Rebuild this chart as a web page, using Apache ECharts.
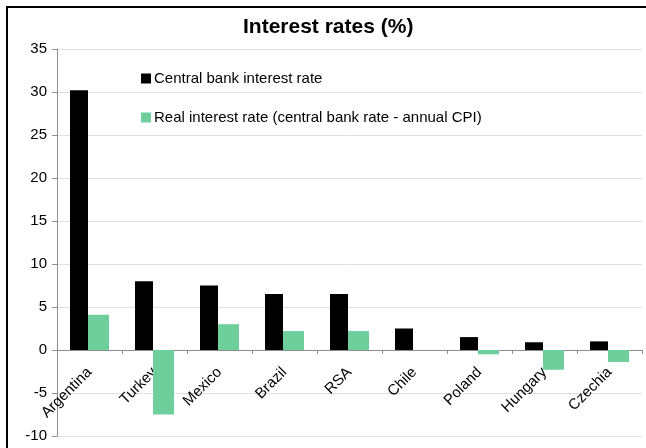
<!DOCTYPE html>
<html><head><meta charset="utf-8">
<script src="https://cdn.jsdelivr.net/npm/echarts@6/dist/echarts.min.js"></script>
<style>html,body{margin:0;padding:0;background:#fff}#c{width:646px;height:448px}</style>
</head><body><div id="c"></div>
<script>
var categories = ['Argentina','Turkey','Mexico','Brazil','RSA','Chile','Poland','Hungary','Czechia'];
var centralBankRate = [30.2, 8.0, 7.5, 6.5, 6.5, 2.5, 1.5, 0.9, 1.0];
var realRate = [4.1, -7.5, 3.0, 2.2, 2.2, 0, -0.5, -2.3, -1.4];
var yTicks = {min: -10, max: 35, interval: 5};
var seriesNames = ['Central bank interest rate', 'Real interest rate (central bank rate - annual CPI)'];

var gridTop = 49, gridBottom = 12, H = 448;
var plotH = H - gridTop - gridBottom;
var zeroOffset = -plotH * (0 - yTicks.min) / (yTicks.max - yTicks.min);

var chart = echarts.init(document.getElementById('c'));
var font = 'Liberation Sans, Arial, sans-serif';
chart.setOption({
  animation: false,
  textStyle: {fontFamily: font},
  title: {text: 'Interest rates (%)', left: 238, top: 12,
    textStyle: {fontSize: 21, fontWeight: 'bold', color: '#000', fontFamily: font}},
  legend: {orient: 'vertical', left: 136, top: 66, itemGap: 24, itemWidth: 10, itemHeight: 10,
    icon: 'rect', textStyle: {fontSize: 15, color: '#000', fontFamily: font, padding: [0,0,0,-2]}},
  graphic: [{type: 'rect', shape: {x: 7, y: 7, width: 700, height: 500},
    style: {fill: 'none', stroke: '#000', lineWidth: 2}, silent: true}],
  grid: {left: 57, right: 4, top: gridTop, bottom: gridBottom, containLabel: false, outerBoundsMode: 'none'},
  xAxis: {type: 'category', data: categories, offset: zeroOffset,
    axisLine: {onZero: false, lineStyle: {color: '#8c8c8c'}},
    axisTick: {show: true, length: 4, lineStyle: {color: '#8c8c8c'}},
    axisLabel: {rotate: 45, fontSize: 15, color: '#000', margin: 20, interval: 0},
    splitLine: {show: false}},
  yAxis: {type: 'value', min: yTicks.min, max: yTicks.max, interval: yTicks.interval,
    axisLine: {show: true, lineStyle: {color: '#8c8c8c'}},
    axisTick: {show: true, length: 5, lineStyle: {color: '#8c8c8c'}},
    axisLabel: {fontSize: 15, color: '#000', margin: 10},
    splitLine: {lineStyle: {color: '#e0e0e0'}}},
  series: [
    {name: seriesNames[0], type: 'bar', data: centralBankRate, barWidth: 18, barGap: '0%',
     itemStyle: {color: '#000000'}},
    {name: seriesNames[1], type: 'bar', data: realRate, barWidth: 21,
     itemStyle: {color: '#6fcf9c'}}
  ]
});
</script></body></html>
